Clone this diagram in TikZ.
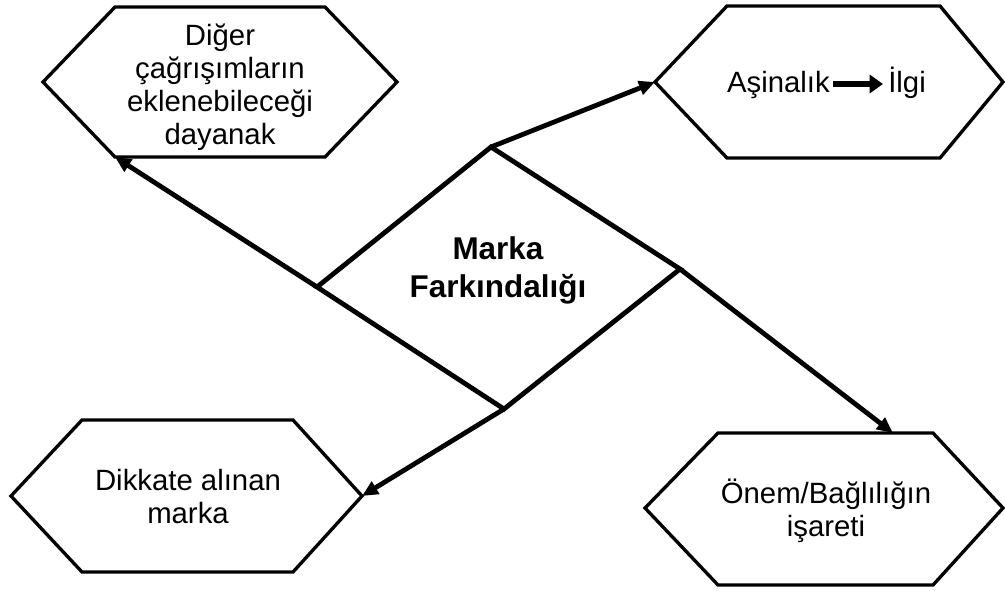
\documentclass[tikz,border=0pt]{standalone}
\usepackage{fontspec}
\setmainfont{Liberation Sans}
\usetikzlibrary{arrows.meta}
\begin{document}
\begin{tikzpicture}[x=0.75pt,y=-0.75pt,
  hexline/.style={draw=black, line width=2.5pt, line join=miter},
  rim/.style={draw=black, line width=3.6pt, line join=miter},
  link/.style={line width=3.6pt, -{Triangle[length=12pt,width=10.5pt]}},
  tinyarrow/.style={line width=4.3pt, -{Triangle[length=10pt,width=13.5pt]}, shorten <=2.25pt, shorten >=3.75pt},
  label/.style={align=center, font=\fontsize{22}{24.75}\selectfont, inner sep=0pt, anchor=base},
  title/.style={align=center, font=\bfseries\fontsize{23.6}{28.2}\selectfont, inner sep=0pt, anchor=base}]
\useasboundingbox (0,0) rectangle (1005,590);

% outer hexagons
\draw[hexline] (43,82) -- (115,7) -- (325,7) -- (397,82) -- (325,157) -- (115,157) -- cycle;
\draw[hexline] (655,82) -- (727,6) -- (940,6) -- (1003,82) -- (940,158) -- (727,158) -- cycle;
\draw[hexline] (11,496) -- (82,420) -- (293,420) -- (362,496) -- (293,572) -- (82,572) -- cycle;
\draw[hexline] (645,508) -- (718,433) -- (933,433) -- (1003,508) -- (933,585) -- (718,585) -- cycle;

% arrow targets on the hexagons
\coordinate (dayanak) at (115,157);
\coordinate (asinalik) at (655,82);
\coordinate (dikkate) at (362,496);
\coordinate (onem) at (893,433);

% central diamond
\coordinate (dtop) at (491,147);
\coordinate (dright) at (680,269);
\coordinate (dbottom) at (504,409);
\coordinate (dleft) at (317,287);
\draw[rim] (dtop) -- (dright) -- (dbottom) -- (dleft) -- cycle;
\node[title] (core) at (498,297) {Marka\\Farkındalığı};

% texts (placed by the baseline of their last line)
\node[label] (t1) at (220,144) {Diğer\\çağrışımların\\eklenebileceği\\dayanak};
\node[label, anchor=base east] (asin) at (830,92) {Aşinalık};
\node[label, anchor=base west] (ilgi) at (888,92) {İlgi};
\coordinate (arrowrow) at (858,84);
\draw[tinyarrow] (asin.east |- arrowrow) -- (ilgi.west |- arrowrow);
\node[label] (t3) at (188,523) {Dikkate alınan\\marka};
\node[label] (t4) at (826,536) {Önem/Bağlılığın\\işareti};

% connectors
\draw[link] (dleft) -- (dayanak);
\draw[link] (dtop) -- (asinalik);
\draw[link] (dright) -- (onem);
\draw[link] (dbottom) -- (dikkate);
\end{tikzpicture}
\end{document}
